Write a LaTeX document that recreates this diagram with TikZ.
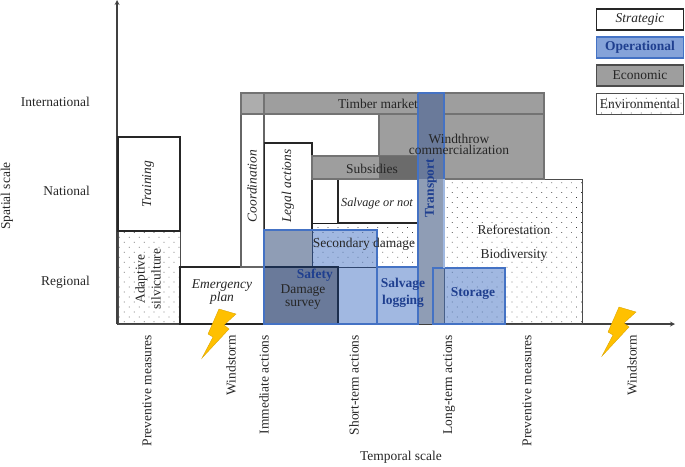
\documentclass[tikz,border=0pt]{standalone}
\usepackage{fontspec}
\setmainfont{Liberation Serif}
\usetikzlibrary{patterns.meta}
\definecolor{opblue}{HTML}{4472C4}
\definecolor{optext}{HTML}{1F3F8F}
\definecolor{boltfill}{HTML}{FFC000}
\definecolor{mixgray}{HTML}{8F9DB5}
\definecolor{mixdark}{HTML}{6A7A9A}
\tikzset{
    strategic/.style={draw=black!85, line width=0.9pt, fill=white},
    economic/.style={draw=black!55, line width=0.9pt, fill=black!38},
    environmental/.style={draw=black!70, line width=0.7pt, pattern={Dots[distance=6pt, radius=0.45pt, angle=45]}, pattern color=black!80},
    outline/.style={draw=opblue, line width=1.1pt},
    label/.style={font=\fontsize{11.5}{11}\selectfont, align=center, text=black!85},
    italabel/.style={label, font=\fontsize{11.5}{10.5}\selectfont\itshape},
    oplabel/.style={label, font=\fontsize{11.5}{11}\selectfont\bfseries, text=optext},
    ticklabel/.style={label, rotate=90, anchor=east},
    keybox/.style={minimum width=87*0.03cm, minimum height=21*0.03cm, inner sep=0pt},
    bolt/.style={draw=boltfill!85!black, line width=0.3pt, fill=boltfill}
}
\begin{document}
\begin{tikzpicture}[x=0.03cm, y=-0.03cm, >=stealth]
    \useasboundingbox (0,0) rectangle (685,466);

    % axes
    \coordinate (O) at (117,324);
    \coordinate (X) at (675,324);
    \coordinate (Y) at (117,0);
    \draw[->, line width=0.9pt, black!75] (O) -- (Y);
    \draw[->, line width=0.9pt, black!75] (O) -- (X);

    % environmental
    \draw[environmental] (118,231) rectangle (180,324);
    \draw[environmental] (444,179) rectangle (582,324);
    \draw[environmental, draw=black!90] (312,223) rectangle (418,267);

    % strategic
    \draw[strategic] (118,137) rectangle (180,231);
    \draw[strategic] (180,267) rectangle (264,324);
    \draw[strategic, draw=black!60] (241,93) rectangle (264,267);
    \draw[strategic] (264.5,143) rectangle (312,230);
    \draw[strategic] (338,179) rectangle (418,223);

    % economic
    \draw[economic] (241,93) rectangle (544,114);
    \draw[economic, fill=black!32] (241,93) rectangle (264,114);
    \draw[economic] (379,114) rectangle (544,179);
    \draw[economic] (312,156) rectangle (418,179);
    \fill[black!58] (379,156) rectangle (418,179);

    % operational
    \fill[opblue, fill opacity=0.5] (264,230) rectangle (377,324);
    \fill[opblue, fill opacity=0.5] (377,267) rectangle (418,324);
    \fill[opblue, fill opacity=0.5] (433,268) rectangle (505,324);
    \fill[mixgray] (264,230) rectangle (312,267);
    \fill[mixdark] (264,267) rectangle (338,324);
    \fill[mixdark] (418,93) rectangle (444,179);
    \fill[mixgray] (418,179) rectangle (444,324);
    \draw[line width=1pt, black!60!opblue] (264,267) -- (338,267) -- (338,324);
    \draw[line width=1pt, black!60!opblue] (418,267) -- (418,324);
    \draw[outline] (264,230) rectangle (377,324);
    \draw[outline] (377,267) rectangle (418,324);
    \draw[outline] (433,268) rectangle (505,324);
    \draw[outline] (418,93) -- (418,267);
    \draw[outline] (418,93) -- (444,93) -- (444,179);
    \draw[outline, opblue!50] (444,179) -- (444,268);

    % bolts
    \foreach \dx/\dy in {0/0, 400/-2}
        \draw[bolt, shift={(\dx*0.03cm,-\dy*0.03cm)}]
            (219,309) -- (236,314) -- (224,325) -- (229,329) -- (202,358)
            -- (213,337) -- (208,334) -- cycle;

    % box labels
    \node[italabel, rotate=90] (training) at (148,184) {Training};
    \node[label, rotate=90, font=\fontsize{11.5}{13.5}\selectfont] (adaptive) at (148,279) {Adaptive\\silviculture};
    \node[italabel] (emergency) at (222,292) {Emergency\\plan};
    \node[italabel, rotate=90] (coordination) at (252,186) {Coordination};
    \node[italabel, rotate=90] (legal) at (288,186) {Legal actions};
    \node[label] (timber) at (378,103.5) {Timber market};
    \node[label, font=\fontsize{11.5}{9.5}\selectfont] (windthrow) at (459,144) {Windthrow\\commercialization};
    \node[label] (subsidies) at (372,168.5) {Subsidies};
    \node[italabel, font=\fontsize{10.5}{12}\selectfont\itshape] (salvagenot) at (377,203.5) {Salvage or not};
    \node[label] (secondary) at (364,244.5) {Secondary damage};
    \node[label] (reforestation) at (514,229.5) {Reforestation};
    \node[label] (biodiversity) at (514,255.5) {Biodiversity};
    \node[oplabel, anchor=east, inner sep=0pt] (safety) at (333,275) {Safety};
    \node[label] (damage) at (303,297) {Damage\\survey};
    \node[oplabel, font=\fontsize{11.5}{14.5}\selectfont\bfseries] (logging) at (403,293) {Salvage\\logging};
    \node[oplabel] (storage) at (473,293.5) {Storage};
    \node[oplabel, rotate=90] (transport) at (431,188) {Transport};

    % scale labels
    \node[label, anchor=east, inner sep=0pt] (international) at (90,102) {International};
    \node[label, anchor=east, inner sep=0pt] (national) at (90,191) {National};
    \node[label, anchor=east, inner sep=0pt] (regional) at (90,282) {Regional};
    \node[label, rotate=90] (spatial) at (7,196) {Spatial scale};
    \node[label] (temporal) at (401,457) {Temporal scale};

    \node[ticklabel] (tickone) at (147,331) {Preventive measures};
    \node[ticklabel] (ticktwo) at (231,331) {Windstorm};
    \node[ticklabel] (tickthree) at (264,331) {Immediate actions};
    \node[ticklabel] (tickfour) at (354,331) {Short-term actions};
    \node[ticklabel] (tickfive) at (449,331) {Long-term actions};
    \node[ticklabel] (ticksix) at (527,331) {Preventive measures};
    \node[ticklabel] (tickseven) at (632,331) {Windstorm};

    % legend
    \node[strategic, italabel, keybox] (strategickey) at (640,19.5) {Strategic};
    \node[draw=opblue, line width=1.1pt, fill=opblue!65, oplabel, keybox] (operationalkey) at (640,47.5) {Operational};
    \node[draw=black!70, line width=0.9pt, fill=black!38, label, keybox] (economickey) at (640,75.5) {Economic};
    \node[environmental, label, keybox] (environmentalkey) at (640,104) {Environmental};
\end{tikzpicture}
\end{document}
